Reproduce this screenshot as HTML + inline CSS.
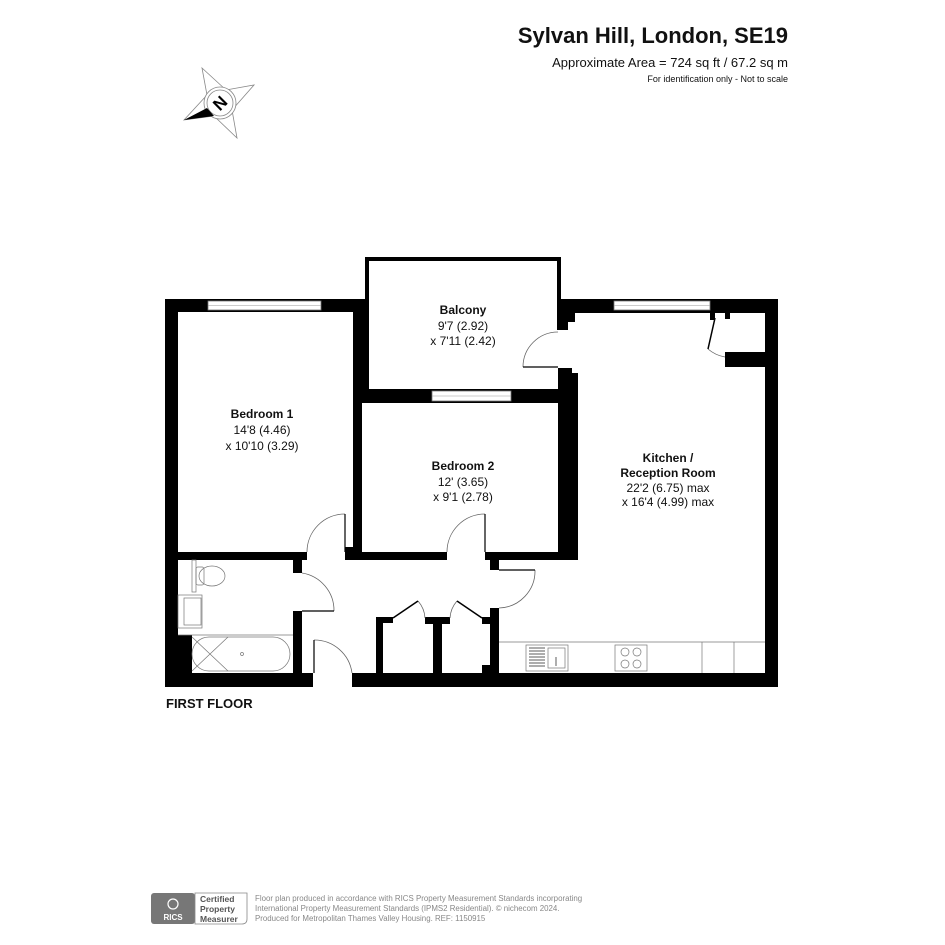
<!DOCTYPE html>
<html><head><meta charset="utf-8"><style>
html,body{margin:0;padding:0;background:#fff}
svg{display:block}
text{font-family:"Liberation Sans",Arial,sans-serif}
</style></head><body>
<svg width="945" height="945" viewBox="0 0 945 945" xmlns="http://www.w3.org/2000/svg">
<rect width="945" height="945" fill="#fff"/>
<text x="788" y="43" text-anchor="end" font-size="22" font-weight="bold" fill="#111">Sylvan Hill, London, SE19</text>
<text x="788" y="67" text-anchor="end" font-size="13" fill="#111">Approximate Area = 724 sq ft / 67.2 sq m</text>
<text x="788" y="82" text-anchor="end" font-size="9" fill="#111">For identification only - Not to scale</text>

<!-- compass -->
<g stroke="#888" stroke-width="0.8" fill="none">
<polygon points="202,68 226,90 254,85 232,110 237,138 214,116 184,120 207,95"/>
<circle cx="220" cy="103" r="16" fill="#fff"/>
<circle cx="220" cy="103" r="13"/>
</g>
<polygon points="184,120 207,108 214,116" fill="#000"/>
<text x="220" y="109" text-anchor="middle" font-size="17" font-weight="bold" transform="rotate(-45 220 103)">N</text>

<g fill="#000">
<rect x="165" y="299" width="204" height="13"/>
<rect x="165" y="299" width="13" height="388"/>
<rect x="165" y="673" width="148" height="14"/>
<rect x="352" y="673" width="426" height="14"/>
<rect x="765" y="299" width="13" height="388"/>
<rect x="558" y="299" width="220" height="14"/>
<rect x="365" y="257" width="196" height="4"/>
<rect x="365" y="257" width="4" height="55"/>
<rect x="557" y="257" width="4" height="73"/>
<rect x="355" y="312" width="14" height="77"/>
<rect x="353" y="312" width="9" height="248"/>
<rect x="345" y="547" width="10" height="13"/>
<rect x="355" y="389" width="223" height="14"/>
<rect x="558" y="373" width="20" height="187"/>
<rect x="558" y="368" width="14" height="6"/>
<rect x="561" y="313" width="14" height="9"/>
<rect x="561" y="322" width="7" height="8"/>
<rect x="165" y="552" width="142" height="8"/>
<rect x="345" y="552" width="102" height="8"/>
<rect x="485" y="552" width="93" height="8"/>
<rect x="490" y="560" width="9" height="10"/>
<rect x="293" y="560" width="9" height="13"/>
<rect x="293" y="611" width="9" height="62"/>
<rect x="165" y="635" width="27" height="38"/>
<rect x="376" y="617" width="7" height="56"/>
<rect x="376" y="617" width="17" height="6"/>
<rect x="433" y="617" width="9" height="56"/>
<rect x="425" y="617" width="25" height="7"/>
<rect x="490" y="608" width="9" height="65"/>
<rect x="482" y="617" width="17" height="7"/>
<rect x="482" y="665" width="17" height="8"/>
<rect x="710" y="313" width="5" height="7"/>
<rect x="725" y="352" width="40" height="15"/>
<rect x="725" y="313" width="5" height="6"/>
</g>
<!-- windows -->
<g fill="#fff" stroke="#777" stroke-width="0.8">
<rect x="208" y="301" width="113" height="9"/>
<rect x="614" y="301" width="96" height="9"/>
<rect x="432" y="391" width="79" height="10"/>
</g>
<g stroke="#999" stroke-width="0.6">
<line x1="208" y1="305.5" x2="321" y2="305.5"/>
<line x1="614" y1="305.5" x2="710" y2="305.5"/>
<line x1="432" y1="396" x2="511" y2="396"/>
</g>
<!-- doors -->
<g fill="none" stroke="#666" stroke-width="0.8">
<path d="M523,367 A35,35 0 0 1 558,332"/>
<line x1="523" y1="367" x2="558" y2="367" stroke="#000" stroke-width="1.2"/>
<path d="M307,552 A38,38 0 0 1 345,514"/>
<line x1="345" y1="514" x2="345" y2="552" stroke="#000" stroke-width="1.2"/>
<path d="M447,552 A38,38 0 0 1 485,514"/>
<line x1="485" y1="514" x2="485" y2="552" stroke="#000" stroke-width="1.2"/>
<path d="M302,573 A38,38 0 0 1 334,611"/>
<line x1="302" y1="611" x2="334" y2="611" stroke="#000" stroke-width="1.2"/>
<path d="M314,640 A38,38 0 0 1 352,673"/>
<line x1="314" y1="640" x2="314" y2="673" stroke="#000" stroke-width="1.2"/>
<path d="M535,570 A37,37 0 0 1 499,608"/>
<line x1="499" y1="570" x2="535" y2="570" stroke="#000" stroke-width="1.2"/>
<path d="M418,601 A28,28 0 0 1 425,618"/>
<line x1="393" y1="618" x2="418" y2="601" stroke="#000" stroke-width="1.5"/>
<path d="M457,601 A28,28 0 0 0 450,618"/>
<line x1="482" y1="618" x2="457" y2="601" stroke="#000" stroke-width="1.5"/>
<path d="M708,349 A35,35 0 0 0 725,357"/>
<line x1="715" y1="318" x2="708" y2="349" stroke="#000" stroke-width="1.5"/>
</g>
<!-- bathroom fixtures -->
<g fill="none" stroke="#777" stroke-width="0.7">
<rect x="192" y="560" width="4" height="32"/>
<rect x="196" y="567" width="8" height="18" rx="2"/>
<ellipse cx="212" cy="576" rx="13" ry="10"/>
<rect x="178" y="595" width="24" height="33"/>
<rect x="184" y="598" width="17" height="27"/>
<line x1="178" y1="635" x2="293" y2="635"/>
<rect x="192" y="637" width="98" height="34" rx="17"/>
<line x1="192" y1="637" x2="228" y2="671"/>
<line x1="192" y1="671" x2="228" y2="637"/>
<circle cx="242" cy="654" r="1.5"/>
<line x1="499" y1="642" x2="765" y2="642"/>
<line x1="702" y1="642" x2="702" y2="673"/>
<line x1="734" y1="642" x2="734" y2="673"/>
<rect x="526" y="645" width="42" height="26"/>
<rect x="548" y="648" width="17" height="20"/>
<rect x="615" y="645" width="32" height="26"/>
<circle cx="625" cy="652" r="4"/><circle cx="637" cy="652" r="4"/>
<circle cx="625" cy="664" r="4"/><circle cx="637" cy="664" r="4"/>
</g>
<g stroke="#333" stroke-width="0.8">
<line x1="529" y1="648" x2="545" y2="648"/><line x1="529" y1="651" x2="545" y2="651"/>
<line x1="529" y1="654" x2="545" y2="654"/><line x1="529" y1="657" x2="545" y2="657"/>
<line x1="529" y1="660" x2="545" y2="660"/><line x1="529" y1="663" x2="545" y2="663"/>
<line x1="529" y1="666" x2="545" y2="666"/><line x1="556" y1="657" x2="556" y2="666"/>
</g>

<g font-size="12" fill="#111" text-anchor="middle">
<text x="262" y="418" font-weight="bold">Bedroom 1</text>
<text x="262" y="434">14'8 (4.46)</text>
<text x="262" y="450">x 10'10 (3.29)</text>
<text x="463" y="314" font-weight="bold">Balcony</text>
<text x="463" y="330">9'7 (2.92)</text>
<text x="463" y="345">x 7'11 (2.42)</text>
<text x="463" y="470" font-weight="bold">Bedroom 2</text>
<text x="463" y="486">12' (3.65)</text>
<text x="463" y="501">x 9'1 (2.78)</text>
<text x="668" y="462" font-weight="bold">Kitchen /</text>
<text x="668" y="477" font-weight="bold">Reception Room</text>
<text x="668" y="492">22'2 (6.75) max</text>
<text x="668" y="506">x 16'4 (4.99) max</text>
</g>
<text x="166" y="708" font-size="13" font-weight="bold" fill="#111">FIRST FLOOR</text>

<!-- footer -->
<rect x="151" y="893" width="44" height="31" rx="3" fill="#777"/>
<text x="173" y="920" font-size="8" font-weight="bold" fill="#fff" text-anchor="middle">RICS</text>
<circle cx="173" cy="904" r="5" fill="none" stroke="#fff" stroke-width="1.2"/>
<path d="M195,893 H247 V919 Q247,924 242,924 H195 Z" fill="#fff" stroke="#888" stroke-width="0.8"/>
<g font-size="8.5" font-weight="bold" fill="#555"><text x="200" y="902">Certified</text><text x="200" y="912">Property</text><text x="200" y="922">Measurer</text></g>
<g font-size="7.9" fill="#888">
<text x="255" y="901">Floor plan produced in accordance with RICS Property Measurement Standards incorporating</text>
<text x="255" y="911">International Property Measurement Standards (IPMS2 Residential).   © nichecom 2024.</text>
<text x="255" y="921">Produced for Metropolitan Thames Valley Housing.   REF: 1150915</text>
</g>
</svg>
</body></html>
